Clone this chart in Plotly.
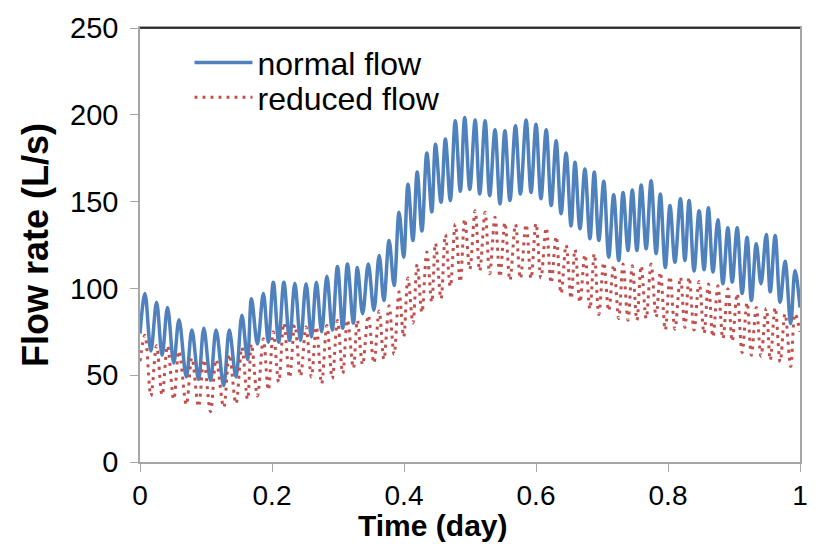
import plotly.graph_objects as go

# Time (day) of the local extrema (shared by both series)
time_day = [
    0.0000, 0.0075, 0.0165, 0.0251, 0.0335, 0.0417, 0.0511, 0.0591, 0.0702, 0.0786,
    0.0887, 0.0967, 0.1068, 0.1153, 0.1268, 0.1353, 0.1454, 0.1544, 0.1629, 0.1689,
    0.1779, 0.1869, 0.1944, 0.2020, 0.2101, 0.2180, 0.2266, 0.2346, 0.2432, 0.2516,
    0.2597, 0.2672, 0.2752, 0.2832, 0.2913, 0.2992, 0.3072, 0.3143, 0.3233, 0.3293,
    0.3373, 0.3459, 0.3544, 0.3624, 0.3695, 0.3774, 0.3850, 0.3925, 0.3995, 0.4060,
    0.4135, 0.4200, 0.4271, 0.4346, 0.4421, 0.4477, 0.4561, 0.4627, 0.4702, 0.4777,
    0.4853, 0.4920, 0.4997, 0.5078, 0.5147, 0.5229, 0.5298, 0.5379, 0.5454, 0.5529,
    0.5605, 0.5689, 0.5764, 0.5850, 0.5925, 0.6000, 0.6075, 0.6155, 0.6230, 0.6305,
    0.6380, 0.6456, 0.6531, 0.6591, 0.6666, 0.6741, 0.6817, 0.6883, 0.6952, 0.7027,
    0.7102, 0.7177, 0.7253, 0.7319, 0.7394, 0.7459, 0.7529, 0.7594, 0.7669, 0.7744,
    0.7820, 0.7884, 0.7959, 0.8030, 0.8105, 0.8188, 0.8256, 0.8320, 0.8395, 0.8471,
    0.8546, 0.8612, 0.8681, 0.8756, 0.8832, 0.8907, 0.8973, 0.9048, 0.9123, 0.9198,
    0.9263, 0.9338, 0.9409, 0.9489, 0.9549, 0.9624, 0.9699, 0.9774, 0.9859, 0.9925,
    1.0000,
]

normal_flow = [
    74, 97, 64, 92, 61.5, 89, 57, 82, 49, 76,
    47.5, 77, 47, 76, 44, 76, 49, 84.5, 59, 94,
    68, 97, 69, 103.6, 69, 103.6, 70, 103, 70, 102.7,
    72, 103.6, 75, 107, 76, 112.6, 77, 114, 80, 112,
    85.4, 114, 87.4, 119, 93, 127.6, 101.7, 143.9, 118, 160,
    127.6, 167, 133, 178, 144, 183, 149.6, 186, 150.6, 196.6,
    156, 198.4, 157, 197, 154.4, 196.6, 153.4, 191.4, 148.7, 190.8,
    150.6, 193.7, 154.4, 197, 155.3, 194.6, 151.6, 191.4, 147.7, 185,
    143, 178, 136, 172.6, 134.3, 168.8, 128.6, 167, 127.6, 161.7,
    118, 154, 116, 155.3, 121.8, 156.7, 121.8, 159.6, 122.8, 162,
    120, 154.4, 112, 147.7, 115, 151.6, 116, 150.6, 110, 144.8,
    110.7, 146.4, 109.4, 139.5, 102.7, 134.9, 103.6, 134.9, 97, 129.5,
    93, 125.7, 102.7, 131, 98, 130.5, 92, 115.7, 79.7, 110.3,
    89,
]

reduced_flow = [
    58, 73, 38, 67, 38.5, 67, 36, 64, 33, 60,
    31.8, 59, 29, 59, 31.5, 62, 33.5, 66, 36, 68,
    38, 71, 41.4, 75, 46, 80, 48.5, 79, 49.5, 77.8,
    49, 78, 45, 78.7, 48, 81.5, 51, 82, 54, 81.6,
    56, 84.5, 57, 87, 59, 90, 62, 98, 72, 106,
    80, 114, 86, 121, 92, 126, 94, 131, 101, 137,
    103.6, 140, 111, 144.8, 110, 143.9, 108.4, 141, 106.5, 138,
    104.6, 137, 105.6, 137, 105.6, 137.5, 106, 135, 103, 130,
    97, 125, 94, 122.5, 92, 119.5, 88, 120, 85, 115,
    87, 113.5, 82.6, 114, 81.6, 113, 81.6, 113, 82.6, 114,
    83.5, 109.4, 76, 107, 76.5, 106.5, 77.5, 106.5, 76, 104,
    74, 102.5, 72, 101.5, 71, 99.8, 69.5, 97, 63, 92,
    61.5, 89, 61, 88.5, 58.6, 89, 57.6, 85.4, 55, 85.4,
    75,
]

x_ticks = [0, 0.2, 0.4, 0.6, 0.8, 1]
x_tick_labels = ["0", "0.2", "0.4", "0.6", "0.8", "1"]
y_ticks = [0, 50, 100, 150, 200, 250]

BLUE = "#4f81bd"
RED = "#c0504d"
FONT = "Liberation Sans, Arial, sans-serif"

fig = go.Figure()
fig.add_trace(go.Scatter(
    x=time_day, y=normal_flow, mode="lines", name="normal flow", legend="legend",
    line=dict(color=BLUE, width=3.5, shape="spline", smoothing=1.0),
))
fig.add_trace(go.Scatter(
    x=time_day, y=reduced_flow, mode="lines", name="reduced flow", legend="legend2",
    line=dict(color=RED, width=3, shape="spline", smoothing=1.0, dash="3px,5px"),
))

legend_common = dict(
    xanchor="left", yanchor="middle", bgcolor="rgba(0,0,0,0)",
    font=dict(size=32, family=FONT), itemwidth=58,
)

fig.update_layout(
    width=820, height=555,
    margin=dict(l=140, r=15, t=27, b=93),
    paper_bgcolor="white", plot_bgcolor="white",
    font=dict(family=FONT, color="black", size=28),
    showlegend=True,
    legend=dict(x=0.075, y=0.92, **legend_common),
    legend2=dict(x=0.075, y=0.84, **legend_common),
    xaxis=dict(
        range=[0, 1], tickvals=x_ticks, ticktext=x_tick_labels,
        showgrid=False, zeroline=False,
        showline=True, linecolor="#a6a6a6", linewidth=1.5, mirror=True,
        ticks="outside", ticklen=8, tickcolor="#a6a6a6",
        tickfont=dict(size=28),
    ),
    yaxis=dict(
        range=[0, 250], tickvals=y_ticks,
        showgrid=False, zeroline=False,
        showline=True, linecolor="#a6a6a6", linewidth=1.5, mirror=True,
        ticks="outside", ticklen=8, tickcolor="#a6a6a6",
        tickfont=dict(size=29), ticklabelstandoff=6,
        title=dict(text="<b>Flow rate (L/s)</b>", font=dict(size=36), standoff=10),
    ),
    annotations=[dict(
        text="<b>Time (day)</b>", xref="paper", yref="paper",
        x=0.444, y=-0.147, xanchor="center", yanchor="middle",
        showarrow=False, font=dict(size=30, family=FONT),
    )],
    shapes=[dict(type="line", xref="paper", yref="paper", x0=0, x1=1, y0=1, y1=1,
                 line=dict(color="black", width=1.5))],
)

fig.write_html("out.html")
